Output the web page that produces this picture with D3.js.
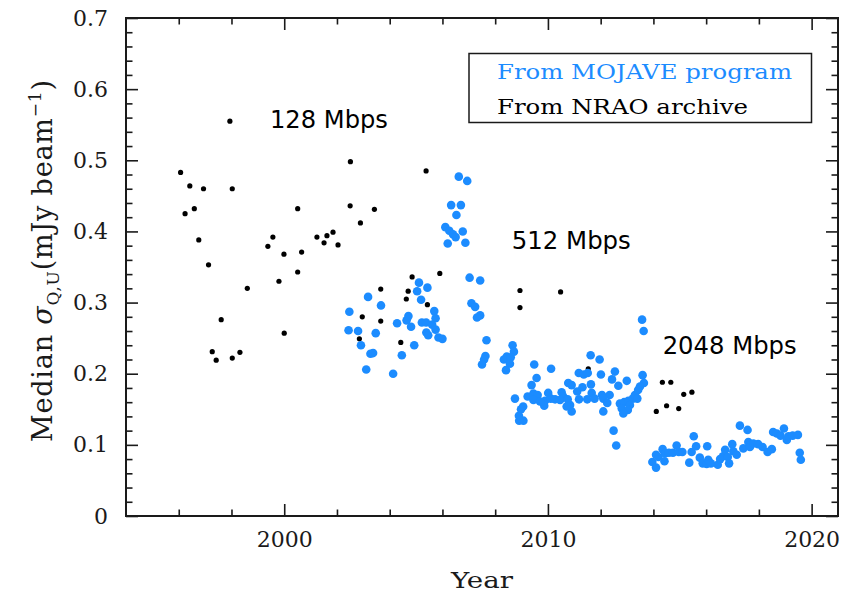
<!DOCTYPE html>
<html>
<head>
<meta charset="utf-8">
<script src="https://cdn.jsdelivr.net/npm/d3@7"></script>
<style>
  body { margin: 0; background: #fff; }
  svg { display: block; }
</style>
</head>
<body>
<svg id="chart" width="859" height="595"></svg>
<script>
// Median Stokes Q/U noise per epoch, NRAO archive data (black)
const nraoYear = [
  1996.07, 1996.42, 1996.94, 1996.24, 1996.59, 1996.76, 1997.13, 1997.94, 1998.03, 1998.60,
  1999.38, 1999.57, 1999.99, 1999.80, 2000.51, 2000.66, 2000.51, 2001.24, 2001.51, 2001.62,
  2001.85, 2002.04, 2002.51, 2002.50, 2002.89, 2003.42, 2003.66, 2005.38, 2004.85, 2005.90,
  2004.70, 2004.63, 2005.43, 2002.96, 2003.66, 2002.85, 2004.42, 1997.27, 1997.42, 1997.61,
  1998.03, 1998.32, 2000.00, 2008.94, 2008.94, 2010.48, 2011.53, 2014.34, 2014.66, 2015.15,
  2015.46, 2014.11, 2014.50, 2014.96
];
const nraoSigma = [
  0.483, 0.464, 0.460, 0.425, 0.432, 0.388, 0.353, 0.555, 0.460, 0.320,
  0.379, 0.392, 0.368, 0.330, 0.432, 0.371, 0.343, 0.392, 0.384, 0.394,
  0.399, 0.381, 0.498, 0.436, 0.412, 0.431, 0.319, 0.485, 0.336, 0.341,
  0.316, 0.305, 0.297, 0.280, 0.274, 0.249, 0.244, 0.231, 0.219, 0.276,
  0.222, 0.230, 0.257, 0.317, 0.293, 0.315, 0.207, 0.188, 0.188, 0.171,
  0.174, 0.147, 0.155, 0.151
];

// Median Stokes Q/U noise per epoch, MOJAVE program data (blue)
const mojaveYear = [
  // 2002-2006
  2003.18, 2003.67, 2002.47, 2002.44, 2002.80, 2003.47, 2002.91, 2003.27, 2003.37, 2003.11,
  2004.13, 2004.46, 2004.93, 2004.28, 2004.64, 2004.71, 2004.81, 2005.11, 2005.43, 2005.04,
  2005.19, 2005.22, 2005.38, 2005.69, 2005.74, 2005.61, 2005.74, 2005.39, 2005.46, 2005.85,
  2006.00,
  // 2006-2008
  2006.62, 2006.94, 2006.33, 2006.70, 2006.53, 2006.11, 2006.26, 2006.40, 2006.50, 2006.77,
  2006.20, 2006.87, 2007.03, 2007.43, 2007.10, 2007.24, 2007.43, 2007.31, 2007.67, 2007.63,
  2007.58, 2007.50,
  // 2008-2013.7
  2008.66, 2008.71, 2008.44, 2008.33, 2008.59, 2008.56, 2008.41, 2009.48, 2010.12, 2009.57,
  2009.38, 2008.75, 2009.23, 2009.45, 2009.61, 2010.01, 2010.52, 2010.58, 2010.77, 2010.90,
  2011.11, 2011.17, 2011.36, 2011.51, 2011.31, 2011.63, 2011.66, 2011.62, 2011.96, 2012.01,
  2012.05, 2012.34, 2012.43, 2012.54, 2012.67, 2012.99, 2013.30, 2013.22, 2013.39, 2013.59,
  2013.64, 2013.49, 2013.42, 2013.57, 2013.63, 2009.45, 2009.89, 2010.11, 2010.27, 2010.46,
  2010.75, 2011.18, 2011.49, 2011.77, 2012.10, 2012.25, 2012.73, 2012.89, 2013.05, 2013.11,
  2012.80, 2013.03, 2012.86, 2009.86, 2010.84, 2010.90, 2012.10, 2009.06, 2008.98, 2008.90,
  2009.07, 2008.91, 2012.49, 2012.59, 2009.70, 2010.71,
  // 2013.9-2019.6
  2013.96, 2014.10, 2014.10, 2014.19, 2014.35, 2014.44, 2014.42, 2014.59, 2014.74, 2014.88,
  2014.96, 2015.10, 2015.36, 2015.45, 2015.53, 2015.62, 2015.76, 2015.87, 2016.02, 2016.04,
  2016.08, 2016.18, 2016.44, 2016.53, 2016.64, 2016.72, 2016.82, 2016.87, 2016.99, 2017.03,
  2017.16, 2017.28, 2017.41, 2017.57, 2017.60, 2017.66, 2017.79, 2017.97, 2018.14, 2018.33,
  2018.49, 2018.54, 2018.68, 2018.82, 2018.95, 2019.06, 2019.12, 2019.28, 2019.48, 2019.55,
  2019.59
];
const mojaveSigma = [
  0.308, 0.296, 0.287, 0.261, 0.260, 0.257, 0.240, 0.228, 0.229, 0.206,
  0.200, 0.226, 0.240, 0.271, 0.275, 0.281, 0.266, 0.328, 0.321, 0.316,
  0.304, 0.272, 0.272, 0.288, 0.278, 0.269, 0.262, 0.258, 0.254, 0.251,
  0.249,
  0.477, 0.471, 0.437, 0.437, 0.423, 0.406, 0.401, 0.396, 0.392, 0.400,
  0.383, 0.384, 0.335, 0.331, 0.299, 0.294, 0.282, 0.279, 0.247, 0.225,
  0.220, 0.213,
  0.240, 0.231, 0.224, 0.220, 0.223, 0.214, 0.205, 0.213, 0.207, 0.194,
  0.184, 0.165, 0.168, 0.172, 0.170, 0.173, 0.174, 0.168, 0.187, 0.184,
  0.175, 0.201, 0.199, 0.201, 0.181, 0.185, 0.173, 0.226, 0.220, 0.199,
  0.170, 0.170, 0.192, 0.203, 0.183, 0.190, 0.170, 0.165, 0.165, 0.198,
  0.187, 0.182, 0.177, 0.276, 0.260, 0.163, 0.162, 0.165, 0.164, 0.163,
  0.164, 0.164, 0.164, 0.165, 0.165, 0.159, 0.158, 0.160, 0.162, 0.156,
  0.151, 0.149, 0.144, 0.155, 0.156, 0.147, 0.147, 0.154, 0.150, 0.141,
  0.134, 0.134, 0.120, 0.099, 0.161, 0.154,
  0.076, 0.068, 0.086, 0.083, 0.094, 0.088, 0.077, 0.089, 0.089, 0.099,
  0.090, 0.090, 0.075, 0.090, 0.112, 0.098, 0.082, 0.074, 0.073, 0.098,
  0.079, 0.074, 0.072, 0.080, 0.084, 0.093, 0.083, 0.074, 0.101, 0.091,
  0.086, 0.127, 0.095, 0.121, 0.104, 0.097, 0.102, 0.101, 0.097, 0.090,
  0.094, 0.118, 0.116, 0.113, 0.123, 0.107, 0.112, 0.113, 0.114, 0.089,
  0.079
];

const xTicks = [2000, 2010, 2020];
const yTicks = [0, 0.1, 0.2, 0.3, 0.4, 0.5, 0.6, 0.7];
const yTickLabels = ["0", "0.1", "0.2", "0.3", "0.4", "0.5", "0.6", "0.7"];
const legendLabels = ["From MOJAVE program", "From NRAO archive"];
const rateLabels = ["128 Mbps", "512 Mbps", "2048 Mbps"];
const rateLabelYear = [1999.46, 2008.63, 2014.35];
const rateLabelSigma = [0.546, 0.376, 0.228];

const svg = d3.select("#chart");
const W = 859, H = 595;
const plotL = 126, plotR = 838, plotT = 18, plotB = 516;

const blue = "#1c8cff";
const ink = "#1a1a1a";
const serif = "'DejaVu Serif', 'Liberation Serif', serif";
const sans = "'DejaVu Sans', Verdana, sans-serif";

const x = d3.scaleLinear().domain([1994, 2021]).range([plotL, plotR]);
const y = d3.scaleLinear().domain([0, 0.7]).range([plotB, plotT]);

svg.append("rect").attr("width", W).attr("height", H).attr("fill", "#fff");

// ---- axes: ticks point inward on all four sides ----
const xMajor = xTicks;
const xMinor = d3.range(1996, 2021, 2).filter(v => v % 10 !== 0);
const yMajor = yTicks;
const yMinor = d3.range(1, 35).filter(k => k % 5 !== 0).map(k => k * 0.02);

function styleAxis(g) {
  g.select(".domain").remove();
  g.selectAll(".tick line").attr("stroke", ink).attr("stroke-width", 1.6);
}

const bigTick = 12, smallTick = 6.5;

// bottom
svg.append("g").attr("transform", `translate(0,${plotB})`)
  .call(d3.axisBottom(x).tickValues(xMajor).tickSize(-bigTick).tickSizeOuter(0).tickPadding(15).tickFormat(d3.format("d")))
  .call(styleAxis)
  .call(g => g.selectAll("text").attr("font-family", serif).attr("font-size", 22).attr("fill", ink));
svg.append("g").attr("transform", `translate(0,${plotB})`)
  .call(d3.axisBottom(x).tickValues(xMinor).tickSize(-smallTick).tickSizeOuter(0).tickFormat(""))
  .call(styleAxis);
// top
svg.append("g").attr("transform", `translate(0,${plotT})`)
  .call(d3.axisTop(x).tickValues(xMajor).tickSize(-bigTick).tickSizeOuter(0).tickFormat(""))
  .call(styleAxis);
svg.append("g").attr("transform", `translate(0,${plotT})`)
  .call(d3.axisTop(x).tickValues(xMinor).tickSize(-smallTick).tickSizeOuter(0).tickFormat(""))
  .call(styleAxis);
// left
svg.append("g").attr("transform", `translate(${plotL},0)`)
  .call(d3.axisLeft(y).tickValues(yMajor).tickSize(-bigTick).tickSizeOuter(0).tickPadding(18)
    .tickFormat((d, i) => yTickLabels[i]))
  .call(styleAxis)
  .call(g => g.selectAll("text").attr("font-family", serif).attr("font-size", 22).attr("fill", ink));
svg.append("g").attr("transform", `translate(${plotL},0)`)
  .call(d3.axisLeft(y).tickValues(yMinor).tickSize(-smallTick).tickSizeOuter(0).tickFormat(""))
  .call(styleAxis);
// right
svg.append("g").attr("transform", `translate(${plotR},0)`)
  .call(d3.axisRight(y).tickValues(yMajor).tickSize(-bigTick).tickSizeOuter(0).tickFormat(""))
  .call(styleAxis);
svg.append("g").attr("transform", `translate(${plotR},0)`)
  .call(d3.axisRight(y).tickValues(yMinor).tickSize(-smallTick).tickSizeOuter(0).tickFormat(""))
  .call(styleAxis);

// frame
svg.append("rect")
  .attr("x", plotL).attr("y", plotT)
  .attr("width", plotR - plotL).attr("height", plotB - plotT)
  .attr("fill", "none").attr("stroke", ink).attr("stroke-width", 2);

// ---- points ----
const nrao = nraoYear.map((t, i) => ({ t, s: nraoSigma[i] }));
const mojave = mojaveYear.map((t, i) => ({ t, s: mojaveSigma[i] }));

svg.append("g").selectAll("circle").data(nrao).join("circle")
  .attr("cx", d => x(d.t)).attr("cy", d => y(d.s)).attr("r", 2.6)
  .attr("fill", "#000");

svg.append("g").selectAll("circle").data(mojave).join("circle")
  .attr("cx", d => x(d.t)).attr("cy", d => y(d.s)).attr("r", 4.3)
  .attr("fill", blue);

// ---- data-rate annotations ----
const rateWidths = [118, 119, 134];
svg.append("g").selectAll("text").data(rateLabels).join("text")
  .attr("x", (d, i) => x(rateLabelYear[i]))
  .attr("y", (d, i) => y(rateLabelSigma[i]))
  .attr("font-family", sans).attr("font-size", 25).attr("fill", "#000")
  .attr("textLength", (d, i) => rateWidths[i]).attr("lengthAdjust", "spacingAndGlyphs")
  .text(d => d);

// ---- legend ----
const legend = svg.append("g");
legend.append("rect")
  .attr("x", 469).attr("y", 53.5).attr("width", 342.5).attr("height", 69)
  .attr("fill", "#fff").attr("stroke", ink).attr("stroke-width", 1.5);
legend.selectAll("text").data(legendLabels).join("text")
  .attr("x", 497).attr("y", (d, i) => 79 + i * 35)
  .attr("font-family", serif).attr("font-size", 20)
  .attr("fill", (d, i) => i === 0 ? blue : "#000")
  .attr("textLength", (d, i) => i === 0 ? 295 : 251).attr("lengthAdjust", "spacingAndGlyphs")
  .text(d => d);

// ---- axis titles ----
svg.append("text")
  .attr("x", 482).attr("y", 588)
  .attr("text-anchor", "middle")
  .attr("font-family", serif).attr("font-size", 23).attr("fill", ink)
  .attr("textLength", 62).attr("lengthAdjust", "spacingAndGlyphs")
  .text("Year");

const yTitle = svg.append("text")
  .attr("transform", "translate(52,442) rotate(-90)")
  .attr("font-family", serif).attr("font-size", 27).attr("fill", ink)
  .attr("textLength", 362).attr("lengthAdjust", "spacing");
yTitle.append("tspan").text("Median ");
yTitle.append("tspan").attr("font-style", "italic").text("σ");
yTitle.append("tspan").attr("font-size", 17).attr("dy", 7).text("Q,U");
yTitle.append("tspan").attr("dy", -7).text("(mJy beam");
yTitle.append("tspan").attr("font-size", 17).attr("dy", -11).text("−1");
yTitle.append("tspan").attr("dy", 11).text(")");
</script>
</body>
</html>
